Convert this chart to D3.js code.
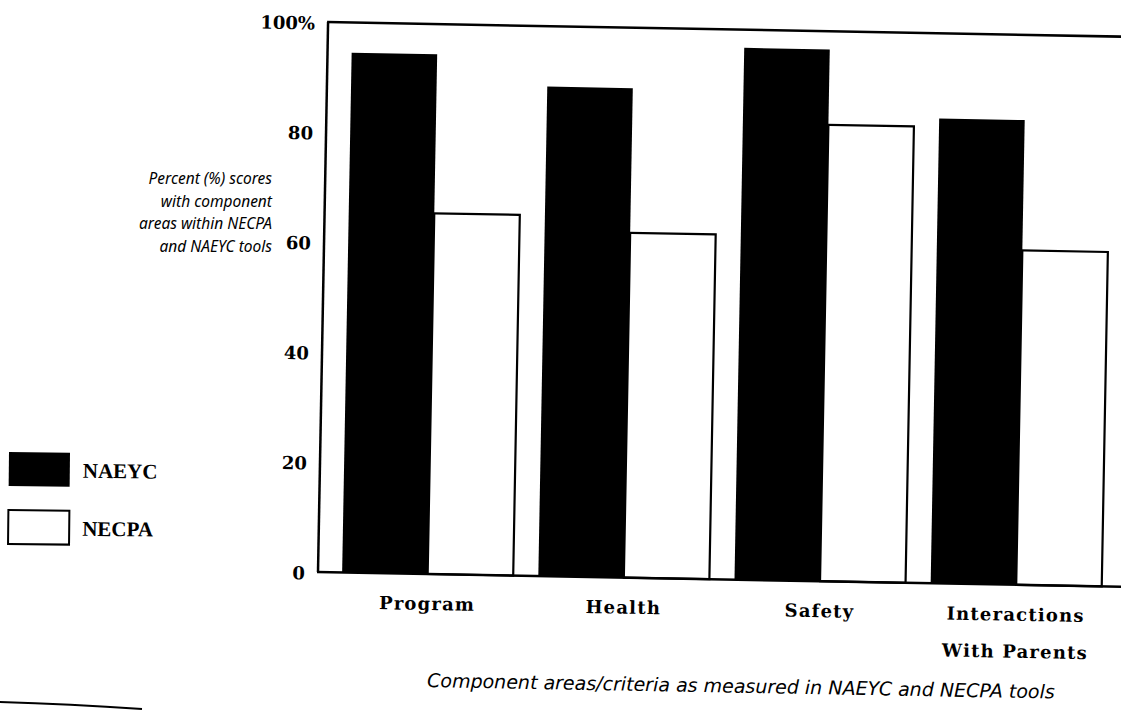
<!DOCTYPE html>
<html>
<head>
<meta charset="utf-8">
<script src="https://cdn.jsdelivr.net/npm/d3@7"></script>
<style>
  body { margin: 0; background: #fff; }
  svg { display: block; }
  .tick-label { font-family: "DejaVu Serif", serif; font-weight: bold; font-size: 18px; }
  .cat-label { font-family: "DejaVu Serif", serif; font-weight: bold; font-size: 18px; letter-spacing: 1.2px; }
  .legend-label { font-family: "Liberation Serif", serif; font-weight: bold; font-size: 21px; }
  .note { font-family: "Noto Sans", sans-serif; font-style: italic; font-size: 15.5px; }
  .title { font-family: "DejaVu Sans", sans-serif; font-style: italic; font-size: 19px; }
</style>
</head>
<body>
<div id="chart"></div>
<script>
// Data
const categories = ['Program', 'Health', 'Safety', 'Interactions With Parents'];
const categoryLines = [['Program'], ['Health'], ['Safety'], ['Interactions', 'With Parents']];
const series = ['NAEYC', 'NECPA'];
const naeycValues = [94.5, 89, 96.7, 84.5];
const necpaValues = [65.6, 62.7, 83, 60.8];
const yTicks = [0, 20, 40, 60, 80, 100];

const width = 1121;
const height = 714;

// The scan is slightly tilted, so the plot is drawn in a rotated frame
const origin = { x: 318, y: 572 };
const tilt = 1.05;
const plotH = 550;
const plotW = 808;

const svg = d3.select('#chart')
  .append('svg')
  .attr('width', width)
  .attr('height', height);

const g = svg.append('g')
  .attr('transform', `translate(${origin.x},${origin.y}) rotate(${tilt}) translate(0,${-plotH})`);

const x0 = d3.scaleBand()
  .domain(categories)
  .range([0, plotW])
  .paddingInner(0.128)
  .paddingOuter(0.123);

const x1 = d3.scaleBand()
  .domain(series)
  .range([0, x0.bandwidth()]);

const y = d3.scaleLinear()
  .domain([0, 100])
  .range([plotH, 0]);

const rows = categories.map((c, i) => ({
  category: c,
  values: [
    { key: 'NAEYC', value: naeycValues[i] },
    { key: 'NECPA', value: necpaValues[i] },
  ],
}));

// Bars
const groups = g.selectAll('.group')
  .data(rows)
  .join('g')
  .attr('class', 'group')
  .attr('transform', d => `translate(${x0(d.category)},0)`);

groups.selectAll('rect')
  .data(d => d.values)
  .join('rect')
  .attr('x', d => x1(d.key))
  .attr('y', d => y(d.value))
  .attr('width', x1.bandwidth())
  .attr('height', d => plotH - y(d.value))
  .attr('fill', d => d.key === 'NAEYC' ? '#000' : '#fff')
  .attr('stroke', '#000')
  .attr('stroke-width', d => d.key === 'NAEYC' ? 0 : 2.2);

// Frame: left axis, baseline, top line
const axisY = d3.axisLeft(y)
  .tickValues(yTicks)
  .tickSize(0)
  .tickPadding(13)
  .tickFormat(d => d === 100 ? '100%' : d);

g.append('g')
  .call(axisY)
  .call(a => a.select('.domain').remove())
  .selectAll('text')
  .attr('class', 'tick-label')
  .attr('fill', '#000')
  .attr('dy', '0.4em');

g.append('line')
  .attr('x1', 0).attr('x2', 0)
  .attr('y1', y(100)).attr('y2', y(0))
  .attr('stroke', '#000').attr('stroke-width', 2.5);

g.append('line')
  .attr('x1', -1).attr('x2', plotW + 40)
  .attr('y1', y(0)).attr('y2', y(0))
  .attr('stroke', '#000').attr('stroke-width', 2.5);

g.append('line')
  .attr('x1', -1).attr('x2', plotW + 40)
  .attr('y1', y(100)).attr('y2', y(100))
  .attr('stroke', '#000').attr('stroke-width', 2.5);

// Category labels
const catLabels = g.selectAll('.cat-label')
  .data(categories)
  .join('text')
  .attr('class', 'cat-label')
  .attr('text-anchor', 'middle')
  .attr('x', d => x0(d) + x0.bandwidth() / 2)
  .attr('y', plotH + 36);

catLabels.selectAll('tspan')
  .data((d, i) => categoryLines[i])
  .join('tspan')
  .attr('x', function () { return d3.select(this.parentNode).attr('x'); })
  .attr('dy', (d, i) => i === 0 ? 0 : 37)
  .text(d => d);

// X axis title
g.append('text')
  .attr('class', 'title')
  .attr('text-anchor', 'middle')
  .attr('x', 425)
  .attr('y', plotH + 113)
  .text('Component areas/criteria as measured in NAEYC and NECPA tools');

// Y axis note, left side
const noteLines = ['Percent (%) scores', 'with component', 'areas within NECPA', 'and NAEYC tools'];
svg.append('text')
  .attr('class', 'note')
  .attr('text-anchor', 'end')
  .selectAll('tspan')
  .data(noteLines)
  .join('tspan')
  .attr('x', 272)
  .attr('y', (d, i) => 184 + i * 22.5)
  .text(d => d);

// Legend
const legend = svg.append('g')
  .attr('transform', 'translate(9,452) rotate(0.6)');

const legendRows = legend.selectAll('g')
  .data(series)
  .join('g')
  .attr('transform', (d, i) => `translate(0,${i * 58})`);

legendRows.append('rect')
  .attr('width', 61)
  .attr('height', 34)
  .attr('fill', d => d === 'NAEYC' ? '#000' : '#fff')
  .attr('stroke', '#000')
  .attr('stroke-width', d => d === 'NAEYC' ? 0 : 2);

legendRows.append('text')
  .attr('class', 'legend-label')
  .attr('x', 74)
  .attr('y', 25)
  .text(d => d);

// Page edge at bottom left of the scan
svg.append('path')
  .attr('d', 'M0,702 Q70,704 142,709')
  .attr('fill', 'none')
  .attr('stroke', '#000')
  .attr('stroke-width', 2);
</script>
</body>
</html>
